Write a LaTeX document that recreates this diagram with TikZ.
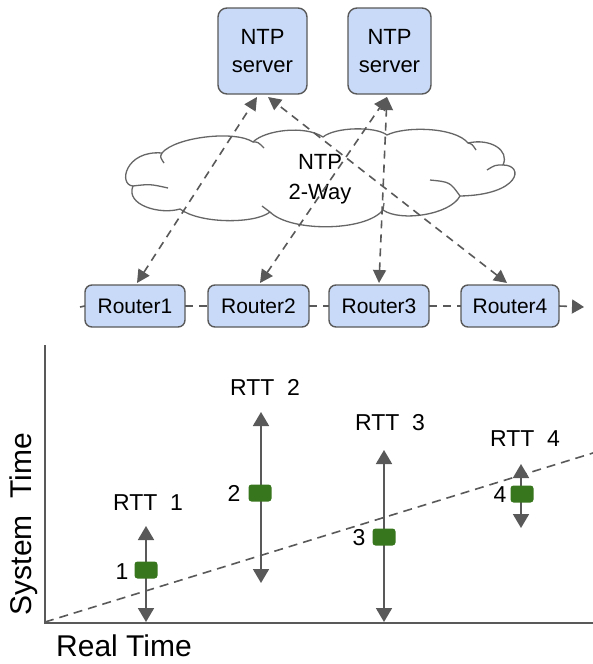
\documentclass[tikz,border=0pt]{standalone}
\usepackage{fontspec}
\setmainfont{Liberation Sans}
\usetikzlibrary{arrows.meta,calc}
\definecolor{boxfill}{HTML}{C9DAF8}
\definecolor{edgegrey}{HTML}{595959}
\definecolor{cloudgrey}{HTML}{666666}
\definecolor{markgreen}{HTML}{38761D}
\begin{document}
\begin{tikzpicture}[x=1pt,y=-1pt,
  box/.style={draw=edgegrey, line width=1.4pt, fill=boxfill, inner sep=0pt,
    outer sep=0pt, align=center, text=black},
  server/.style={box, rounded corners=9pt, minimum height=86pt,
    font=\fontsize{22}{28}\selectfont},
  router/.style={box, rounded corners=7pt, minimum height=42pt,
    font=\fontsize{21}{25}\selectfont},
  link/.style={draw=edgegrey, line width=1.6pt, dash pattern=on 8pt off 6pt,
    {Triangle[length=13pt,width=13pt]}-{Triangle[length=13pt,width=13pt]}},
  chainline/.style={draw=edgegrey, line width=1.6pt, dash pattern=on 8pt off 6pt},
  cloudline/.style={draw=cloudgrey, line width=1.3pt, line join=round},
  axis/.style={draw=edgegrey, line width=1.8pt},
  trend/.style={draw=edgegrey, line width=1.6pt, dash pattern=on 9pt off 6pt},
  rtt/.style={draw=edgegrey, line width=1.8pt,
    {Triangle[length=14pt,width=16pt]}-{Triangle[length=14pt,width=16pt]}},
  sample/.style={fill=markgreen, rounded corners=3pt, minimum width=23pt,
    minimum height=17pt, inner sep=0pt},
  lbl/.style={font=\fontsize{23}{26}\selectfont, inner sep=0pt},
  axislbl/.style={font=\fontsize{30}{34}\selectfont, inner sep=0pt}
]
% canvas
\path[fill=white] (0,0) rectangle (593,664);
\useasboundingbox (0,0) rectangle (593,664);

% ---- network cloud ----
\draw[cloudline, fill=white] (162,153)
  .. controls (175,137) and (235,130) .. (253,142)
  .. controls (265,130) and (305,125) .. (323,137)
  .. controls (335,127) and (375,126) .. (387,135)
  .. controls (405,126) and (455,127) .. (468,143)
  .. controls (490,138) and (510,150) .. (503,165)
  .. controls (525,165) and (520,195) .. (460,196)
  .. controls (450,215) and (400,222) .. (383,210)
  .. controls (365,232) and (290,232) .. (270,212)
  .. controls (255,224) and (200,224) .. (180,209)
  .. controls (160,215) and (125,205) .. (133,186)
  .. controls (118,185) and (125,150) .. cycle;
% inner folds of the cloud
\draw[cloudline] (162,153) .. controls (160,157) .. (164,163);
\draw[cloudline] (253,142) .. controls (258,142) .. (264,148);
\draw[cloudline] (468,143) .. controls (472,144) .. (476,150);
\draw[cloudline] (503,165) .. controls (495,165) .. (487,170);
\draw[cloudline] (460,196) .. controls (450,182) .. (430,180);
\draw[cloudline] (383,210) .. controls (383,207) .. (384,203);
\draw[cloudline] (270,212) .. controls (266,209) .. (262,206);
\draw[cloudline] (133,186) .. controls (150,184) .. (168,188);
\node[align=center, inner sep=0pt, font=\fontsize{22}{30}\selectfont] (cloudtxt)
  at (320,179) {NTP\\2-Way};

% ---- servers and routers ----
\node[server, minimum width=89pt] (s1) at (262.5,51) {NTP\\server};
\node[server, minimum width=83pt] (s2) at (389.5,51) {NTP\\server};

\node[router, minimum width=100pt] (r1) at (135,306) {Router1};
\node[router, minimum width=101pt] (r2) at (258.5,306) {Router2};
\node[router, minimum width=100pt] (r3) at (379,306) {Router3};
\node[router, minimum width=98pt]  (r4) at (510,306) {Router4};

\coordinate (chainstart) at (80,307);
\coordinate (chainend) at (584,307);
\draw[chainline] (chainstart) -- (r1.west);
\draw[chainline] (r1.east) -- (r2.west);
\draw[chainline] (r2.east) -- (r3.west);
\draw[chainline] (r3.east) -- (r4.west);
\draw[chainline, -{Triangle[length=12pt,width=14pt]}] (r4.east) -- (chainend);

% ---- two-way NTP exchanges ----
\draw[link] ([xshift=2pt,yshift=2pt]r1.north) -- ([xshift=-5.5pt,yshift=-3pt]s1.south);
\draw[link] ([xshift=1.5pt,yshift=2pt]r2.north) -- ([xshift=-2.5pt,yshift=-3pt]s2.south);
\draw[link] ([yshift=2pt]r3.north) -- ([xshift=-2.5pt,yshift=-3pt]s2.south);
\draw[link] ([xshift=-3pt,yshift=2pt]r4.north) -- ([xshift=5.5pt,yshift=-3pt]s1.south);

% ---- time plot ----
\coordinate (ytop) at (45,345);
\coordinate (origin) at (45,623);
\coordinate (xend) at (593,623);
\coordinate (trendend) at (593,453);
\draw[trend] (45,622) -- (trendend);
\draw[axis] (ytop) -- (origin) -- (xend);

\node[axislbl, rotate=90] (ylab) at (24,524) {System~~Time};
\node[axislbl] (xlab) at (124,646) {Real Time};

% round-trip intervals
\coordinate (t1) at (146,526); \coordinate (b1) at (146,622);
\coordinate (t2) at (261,412); \coordinate (b2) at (261,583);
\coordinate (t3) at (384,450); \coordinate (b3) at (384,622);
\coordinate (t4) at (521,464); \coordinate (b4) at (521,528);
\draw[rtt] (t1) -- (b1);
\draw[rtt] (t2) -- (b2);
\draw[rtt] (t3) -- (b3);
\draw[rtt] (t4) -- (b4);

\node[sample] (m1) at (146,570) {};
\node[sample] (m2) at (260,493) {};
\node[sample] (m3) at (384,537) {};
\node[sample] (m4) at (522,494) {};

\node[lbl] (n1) at (122,572) {1};
\node[lbl] (n2) at (234,493) {2};
\node[lbl] (n3) at (359,538) {3};
\node[lbl] (n4) at (500,495) {4};

\node[lbl] (rtt1) at (148,503) {RTT~~1};
\node[lbl] (rtt2) at (265,387) {RTT~~2};
\node[lbl] (rtt3) at (390,423) {RTT~~3};
\node[lbl] (rtt4) at (525,439) {RTT~~4};
\end{tikzpicture}
\end{document}
